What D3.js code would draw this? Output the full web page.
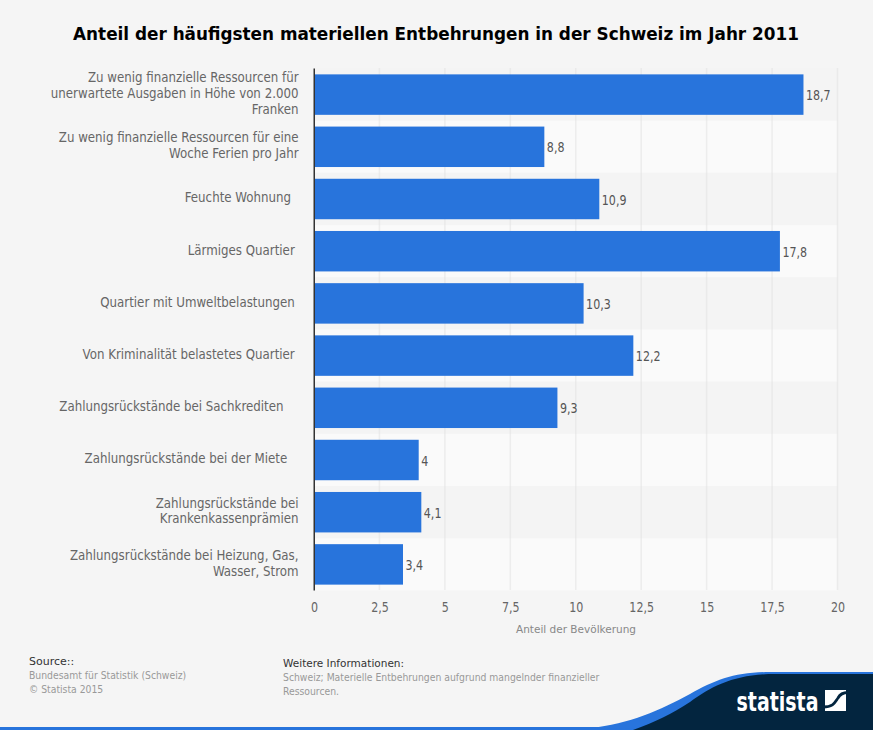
<!DOCTYPE html>
<html>
<head>
<meta charset="utf-8">
<script src="https://cdn.jsdelivr.net/npm/d3@7"></script>
<style>
  html, body { margin: 0; padding: 0; background: #f5f5f5; }
  svg { display: block; }
  text { white-space: pre; }
  .cond { font-family: "DejaVu Sans Condensed", "DejaVu Sans", sans-serif; font-stretch: condensed; }
  .sans { font-family: "DejaVu Sans", sans-serif; }
</style>
</head>
<body>
<script>
// labels keep the trailing blanks the original has, \n is a line break
const categories = [
  "Zu wenig finanzielle Ressourcen für\nunerwartete Ausgaben in Höhe von 2.000\nFranken",
  "Zu wenig finanzielle Ressourcen für eine\nWoche Ferien pro Jahr",
  "Feuchte Wohnung  ",
  "Lärmiges Quartier ",
  "Quartier mit Umweltbelastungen ",
  "Von Kriminalität belastetes Quartier ",
  "Zahlungsrückstände bei Sachkrediten    ",
  "Zahlungsrückstände bei der Miete   ",
  "Zahlungsrückstände bei\nKrankenkassenprämien",
  "Zahlungsrückstände bei Heizung, Gas,\nWasser, Strom"
];
const values = [18.7, 8.8, 10.9, 17.8, 10.3, 12.2, 9.3, 4, 4.1, 3.4];
const xTicks = [0, 2.5, 5, 7.5, 10, 12.5, 15, 17.5, 20];

const title = "Anteil der häufigsten materiellen Entbehrungen in der Schweiz im Jahr 2011";
const xTitle = "Anteil der Bevölkerung";
const sourceLines = ["Bundesamt für Statistik (Schweiz)", "© Statista 2015"];
const infoLines = ["Schweiz; Materielle Entbehrungen aufgrund mangelnder finanzieller", "Ressourcen."];

const width = 873, height = 730;
const margin = { top: 68.5, right: 35.5, bottom: 139.5, left: 314 };
const innerW = width - margin.left - margin.right;
const innerH = height - margin.top - margin.bottom;
const deComma = d => String(d).replace(".", ",");

const svg = d3.select("body").append("svg")
  .attr("width", width)
  .attr("height", height);

svg.append("rect").attr("width", width).attr("height", height).attr("fill", "#f5f5f5");

svg.append("text")
  .attr("class", "sans")
  .attr("x", 436)
  .attr("y", 39.5)
  .attr("text-anchor", "middle")
  .attr("font-size", 16.85)
  .attr("font-weight", "bold")
  .attr("fill", "#000")
  .text(title);

const g = svg.append("g").attr("transform", `translate(${margin.left}, ${margin.top})`);

const xScale = d3.scaleLinear().domain([0, 20]).range([0, innerW]);
const yScale = d3.scaleBand().domain(categories).range([0, innerH]).paddingInner(0.225).paddingOuter(0.1125);
const rowScale = d3.scaleBand().domain(categories).range([0, innerH]);

// alternating row stripes
g.selectAll(".stripe")
  .data(categories)
  .enter()
  .append("rect")
  .attr("class", "stripe")
  .attr("x", 0)
  .attr("y", d => rowScale(d))
  .attr("width", innerW)
  .attr("height", rowScale.bandwidth())
  .attr("fill", (d, i) => i % 2 ? "#fafafa" : "#f4f4f4");

// gridlines
g.selectAll(".grid")
  .data(xTicks.slice(1))
  .enter()
  .append("line")
  .attr("class", "grid")
  .attr("x1", d => xScale(d))
  .attr("x2", d => xScale(d))
  .attr("y1", 0)
  .attr("y2", innerH)
  .attr("stroke", "#e0e0e0")
  .attr("stroke-width", 1.5)
  .attr("stroke-dasharray", "1,1");

// bars
g.selectAll(".bar")
  .data(values)
  .enter()
  .append("rect")
  .attr("class", "bar")
  .attr("x", 0)
  .attr("y", (d, i) => yScale(categories[i]))
  .attr("width", d => xScale(d))
  .attr("height", yScale.bandwidth())
  .attr("fill", "#2874dc");

// value labels, squeezed a bit because the original font runs narrow
g.selectAll(".value")
  .data(values)
  .enter()
  .append("text")
  .attr("class", "value cond")
  .attr("transform", (d, i) => `translate(${xScale(d) + 2.5}, ${rowScale(categories[i]) + rowScale.bandwidth() / 2 + 5.5}) scale(0.88, 1)`)
  .attr("font-size", 14)
  .attr("fill", "#555")
  .text(d => deComma(d));

// category labels
const catLabels = g.selectAll(".cat")
  .data(categories)
  .enter()
  .append("text")
  .attr("class", "cat cond")
  .attr("text-anchor", "end")
  .attr("transform", "translate(-15.5, 0) scale(0.94, 1)")
  .attr("font-size", 14)
  .attr("fill", "#666");

catLabels.each(function(d) {
  const lines = d.split("\n");
  const lineH = 15.6;
  const startY = rowScale(d) + rowScale.bandwidth() / 2 + 3.5 - (lines.length - 1) * lineH / 2;
  d3.select(this).selectAll("tspan")
    .data(lines)
    .enter()
    .append("tspan")
    .attr("x", 0)
    .attr("y", (l, i) => startY + i * lineH)
    .text(l => l);
});

// y axis line
g.append("line")
  .attr("x1", 0.25).attr("x2", 0.25)
  .attr("y1", 0).attr("y2", innerH)
  .attr("stroke", "#333")
  .attr("stroke-width", 1.5);

// x axis
const xAxis = g.append("g")
  .attr("transform", `translate(0, ${innerH})`)
  .call(d3.axisBottom(xScale).tickValues(xTicks).tickFormat(deComma).tickSize(0).tickPadding(12));
xAxis.select(".domain").remove();
xAxis.selectAll("text")
  .attr("class", "cond")
  .attr("font-family", null)
  .attr("font-size", 14)
  .attr("fill", "#666")
  .attr("transform", "scale(0.88, 1)")
  .attr("x", 0);
xAxis.selectAll(".tick").attr("transform", d => `translate(${xScale(d) + 0.5}, 0)`);

svg.append("text")
  .attr("class", "sans")
  .attr("x", 576)
  .attr("y", 633)
  .attr("text-anchor", "middle")
  .attr("font-size", 10.5)
  .attr("fill", "#888")
  .text(xTitle);

// source block
function textBlock(x, y, head, headSize, lines) {
  svg.append("text").attr("class", "sans")
    .attr("x", x).attr("y", y)
    .attr("font-size", headSize)
    .attr("fill", "#333")
    .text(head);
  svg.selectAll(null)
    .data(lines)
    .enter()
    .append("text")
    .attr("class", "cond")
    .attr("x", x)
    .attr("y", (d, i) => y + 14 + i * 14)
    .attr("font-size", 10.3)
    .attr("fill", "#999")
    .text(d => d);
}
textBlock(29, 665, "Source::", 11, sourceLines);
textBlock(283, 667, "Weitere Informationen:", 10.5, infoLines);

// footer swoosh and logo
svg.append("rect").attr("x", 0).attr("y", 727).attr("width", width).attr("height", 3).attr("fill", "#2874dc");
svg.append("path")
  .attr("d", "M590,728 C630,724 660,710 690,694 C715,680 735,672 770,672 L873,672 L873,730 Z")
  .attr("fill", "#2874dc");
svg.append("path")
  .attr("d", "M633,730 C655,722 672,714 690,702 C712,686 735,674 775,674 L873,674 L873,730 Z")
  .attr("fill", "#03253f");
svg.append("text")
  .attr("class", "cond")
  .attr("x", 736.5)
  .attr("y", 710.5)
  .attr("font-size", 26)
  .attr("font-weight", "bold")
  .attr("textLength", 82)
  .attr("lengthAdjust", "spacingAndGlyphs")
  .attr("fill", "#fff")
  .text("statista");
svg.append("rect").attr("x", 825).attr("y", 690).attr("width", 21).attr("height", 21).attr("fill", "#fff");
svg.append("path")
  .attr("d", "M823,707 C834,707 835,702 838,698 C840,694 843,692.5 848,692.5")
  .attr("fill", "none")
  .attr("stroke", "#03253f")
  .attr("stroke-width", 2.8);
</script>
</body>
</html>
